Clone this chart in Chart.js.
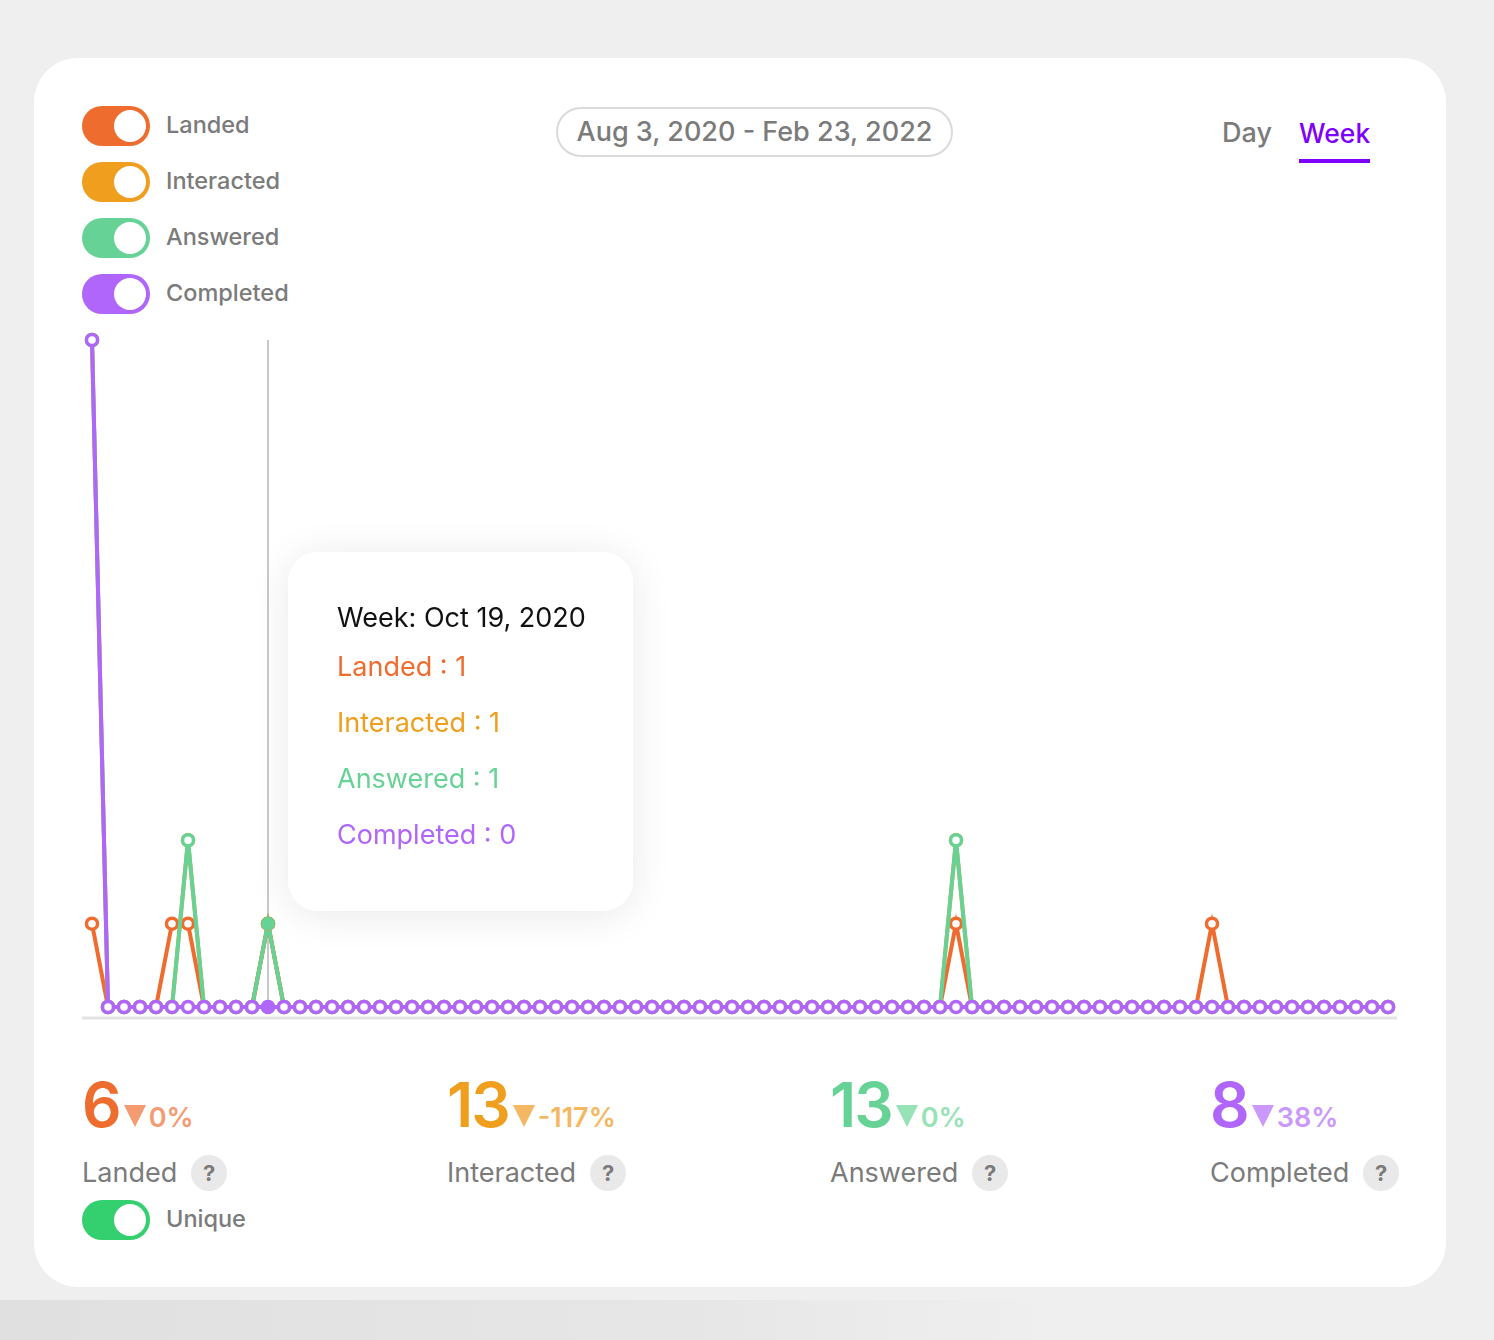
<!DOCTYPE html>
<html><head><meta charset="utf-8">
<script src="https://cdn.jsdelivr.net/npm/chart.js@4.4.1/dist/chart.umd.min.js"></script>
<style>
*{box-sizing:border-box}
body{margin:0;width:1494px;height:1340px;background:#efefef;overflow:hidden;font-family:Inter,'Noto Sans',sans-serif;position:relative}
.shade{position:absolute;left:0;top:1300px;width:1494px;height:40px;background:linear-gradient(90deg,#e0e0e0 0%,#e6e6e6 45%,#efefef 70%)}
.card{position:absolute;left:34px;top:58px;width:1412px;height:1229px;background:#fff;border-radius:44px}
.tg{position:absolute;left:82px;width:68px;height:40px;border-radius:20px}
.tg::after{content:'';position:absolute;right:4px;top:4px;width:32px;height:32px;border-radius:50%;background:#fff}
.lbl{position:absolute;left:166px;font-size:23.5px;color:#7b7b7b;line-height:40px;font-weight:500}
.date{position:absolute;left:556px;top:107px;width:397px;height:50px;border:2px solid #dadada;border-radius:25px;text-align:center;font-size:27px;line-height:46px;color:#7b7b7b;font-weight:500}
.day{position:absolute;left:1222px;top:114px;font-size:27px;color:#7b7b7b;font-weight:500;line-height:38px}
.week{position:absolute;left:1299px;top:114px;font-size:26.5px;color:#7f00ff;font-weight:500;line-height:38px}
.uline{position:absolute;left:1299px;top:159px;width:71px;height:4px;background:#7f00ff}
#wrap{position:absolute;left:82px;top:330px;width:1316px;height:700px}
.tip{position:absolute;left:288px;top:552px;width:345px;height:359px;border-radius:30px;background:#fff;box-shadow:0 4px 40px rgba(0,0,0,0.09)}
.tip .t{position:absolute;left:49px;top:51px;font-size:27px;line-height:30px;color:#111;white-space:nowrap}
.tip .it{position:absolute;left:49px;font-size:27px;line-height:30px;white-space:nowrap}
.stat{position:absolute;top:1074px;white-space:nowrap;line-height:62px}
.stat .n{font-size:62px;font-weight:600;letter-spacing:-2px}
.stat .tri{display:inline-block;width:0;height:0;border-left:11px solid transparent;border-right:11px solid transparent;border-top:22px solid;margin-left:4px;margin-right:3px}
.stat .p{font-size:27px;font-weight:600}
.slbl{position:absolute;top:1154px;display:flex;align-items:center;gap:14px;font-size:27px;color:#7b7b7b;line-height:38px}
.q{width:36px;height:36px;border-radius:50%;background:#e9e9e9;color:#7b7b7b;font-weight:700;font-size:22px;display:flex;align-items:center;justify-content:center}
</style></head>
<body>
<div class="shade"></div>
<div class="card"></div>

<div class="tg" style="top:106px;background:#ef6c2f"></div><div class="lbl" style="top:105px">Landed</div>
<div class="tg" style="top:162px;background:#f09e1e"></div><div class="lbl" style="top:161px">Interacted</div>
<div class="tg" style="top:218px;background:#67d295"></div><div class="lbl" style="top:217px">Answered</div>
<div class="tg" style="top:274px;background:#b066fa"></div><div class="lbl" style="top:273px">Completed</div>

<div class="date">Aug 3, 2020 - Feb 23, 2022</div>
<div class="day">Day</div>
<div class="week">Week</div>
<div class="uline"></div>

<div id="wrap"><canvas id="c" width="1316" height="700"></canvas></div>

<div class="tip" id="tip"></div>

<div id="stats"></div>

<div class="tg" style="top:1200px;background:#34d070"></div><div class="lbl" style="top:1199px">Unique</div>

<script>
// ---- data ----
const seriesNames = ['Landed','Interacted','Answered','Completed'];
const landed = [
 1,0,0,0,0,1,1,0,0,0,
 0,1,0,0,0,0,0,0,0,0,
 0,0,0,0,0,0,0,0,0,0,
 0,0,0,0,0,0,0,0,0,0,
 0,0,0,0,0,0,0,0,0,0,
 0,0,0,0,1,0,0,0,0,0,
 0,0,0,0,0,0,0,0,0,0,
 1,0,0,0,0,0,0,0,0,0,
 0,0];
const interacted = [
 8,0,0,0,0,0,2,0,0,0,
 0,1,0,0,0,0,0,0,0,0,
 0,0,0,0,0,0,0,0,0,0,
 0,0,0,0,0,0,0,0,0,0,
 0,0,0,0,0,0,0,0,0,0,
 0,0,0,0,2,0,0,0,0,0,
 0,0,0,0,0,0,0,0,0,0,
 0,0,0,0,0,0,0,0,0,0,
 0,0];
const answered = [
 8,0,0,0,0,0,2,0,0,0,
 0,1,0,0,0,0,0,0,0,0,
 0,0,0,0,0,0,0,0,0,0,
 0,0,0,0,0,0,0,0,0,0,
 0,0,0,0,0,0,0,0,0,0,
 0,0,0,0,2,0,0,0,0,0,
 0,0,0,0,0,0,0,0,0,0,
 0,0,0,0,0,0,0,0,0,0,
 0,0];
const completed = [
 8,0,0,0,0,0,0,0,0,0,
 0,0,0,0,0,0,0,0,0,0,
 0,0,0,0,0,0,0,0,0,0,
 0,0,0,0,0,0,0,0,0,0,
 0,0,0,0,0,0,0,0,0,0,
 0,0,0,0,0,0,0,0,0,0,
 0,0,0,0,0,0,0,0,0,0,
 0,0,0,0,0,0,0,0,0,0,
 0,0];
const totals = [6,13,13,8];
const changes = ['0%','-117%','0%','38%'];
const hoverIndex = 11;
const weekLabels = [];
for (let i = 0; i < landed.length; i++) {
  const d = new Date(Date.UTC(2020, 7, 3 + 7 * i));
  weekLabels.push(d.toLocaleDateString('en-US', {month:'short', day:'numeric', year:'numeric', timeZone:'UTC'}));
}
// ---- styles ----
const colors = ['#ef6c2f','#f09e1e','#67d295','#b066fa'];
const light = ['#f49b71','#f5b862','#97e2b7','#cb98fc'];
const statX = [82,447,830,1210];

const allData = [landed, interacted, answered, completed];

// tooltip
const tip = document.getElementById('tip');
let html = '<div class="t">Week: ' + weekLabels[hoverIndex] + '</div>';
seriesNames.forEach((n, i) => {
  html += '<div class="it" style="top:' + (100 + 56 * i) + 'px;color:' + colors[i] + '">' + n + ' : ' + allData[i][hoverIndex] + '</div>';
});
tip.innerHTML = html;

// stats
const st = document.getElementById('stats');
let sh = '';
seriesNames.forEach((n, i) => {
  sh += '<div class="stat" style="left:' + statX[i] + 'px"><span class="n" style="color:' + colors[i] + '">' + totals[i] + '</span><span class="tri" style="border-top-color:' + light[i] + '"></span><span class="p" style="color:' + light[i] + '">' + changes[i] + '</span></div>';
  sh += '<div class="slbl" style="left:' + statX[i] + 'px"><span>' + n + '</span><span class="q">?</span></div>';
});
st.innerHTML = sh;

const deco = {
  id: 'deco',
  beforeDatasetsDraw(chart) {
    const {ctx, chartArea} = chart;
    const meta = chart.getDatasetMeta(0);
    const x = meta.data[hoverIndex].x;
    ctx.save();
    ctx.strokeStyle = '#e3e3e3';
    ctx.lineWidth = 3;
    ctx.beginPath();
    ctx.moveTo(chartArea.left - 10, chartArea.bottom + 11);
    ctx.lineTo(chartArea.right + 9, chartArea.bottom + 11);
    ctx.stroke();
    ctx.strokeStyle = '#c9c9c9';
    ctx.lineWidth = 2;
    ctx.beginPath();
    ctx.moveTo(x, chartArea.top);
    ctx.lineTo(x, chartArea.bottom - 6);
    ctx.stroke();
    ctx.restore();
  },
  afterDatasetsDraw(chart) {
    const {ctx} = chart;
    ctx.save();
    [0,1,2,3].forEach(i => {
      const p = chart.getDatasetMeta(i).data[hoverIndex];
      ctx.fillStyle = colors[i];
      ctx.beginPath();
      ctx.arc(p.x, p.y, 7, 0, Math.PI * 2);
      ctx.fill();
    });
    ctx.restore();
  }
};

new Chart(document.getElementById('c'), {
  type: 'line',
  data: {
    labels: weekLabels,
    datasets: [
      {label: seriesNames[0], data: landed, borderColor: colors[0], pointBorderColor: colors[0], order: 2},
      {label: seriesNames[1], data: interacted, borderColor: colors[1], pointBorderColor: colors[1], order: 3},
      {label: seriesNames[2], data: answered, borderColor: colors[2], pointBorderColor: colors[2], order: 1},
      {label: seriesNames[3], data: completed, borderColor: colors[3], pointBorderColor: colors[3], order: 0}
    ].map(d => Object.assign(d, {clip: false, pointBackgroundColor: '#fff', borderWidth: 4, pointRadius: 5.5, pointBorderWidth: 3.5, tension: 0}))
  },
  options: {
    responsive: false,
    animation: false,
    events: [],
    layout: {padding: {left: 10, right: 10, top: 10, bottom: 23}},
    scales: {
      x: {display: false},
      y: {display: false, min: 0, max: 8}
    },
    plugins: {legend: {display: false}, tooltip: {enabled: false}}
  },
  plugins: [deco]
});
</script>
</body></html>
